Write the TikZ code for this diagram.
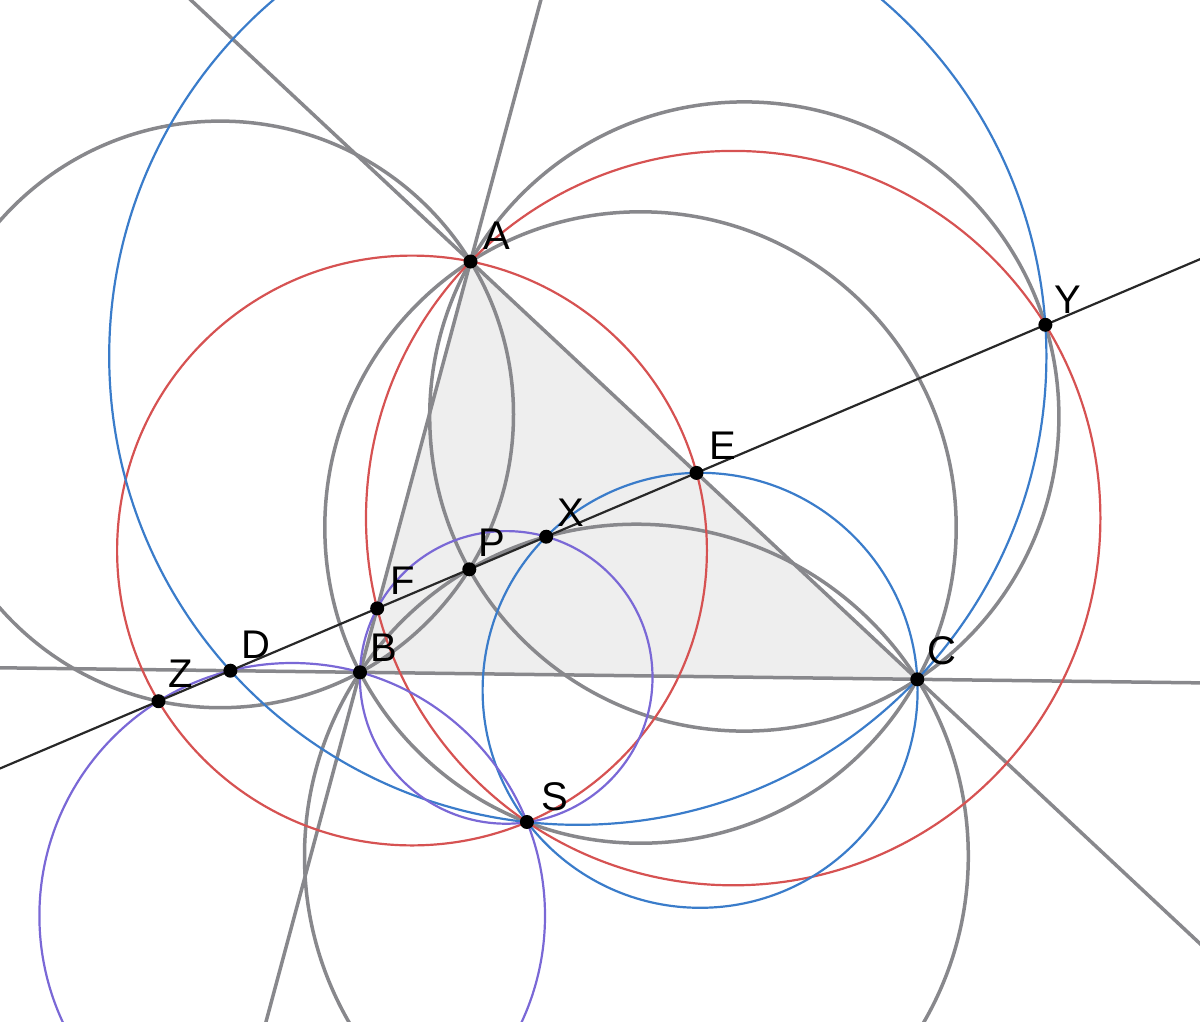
\documentclass[tikz,border=0pt]{standalone}
\usepackage{fontspec}
\setmainfont{Liberation Sans}
\usetikzlibrary{calc}
\definecolor{ggray}{RGB}{136,136,140}
\definecolor{gred}{RGB}{214,82,82}
\definecolor{gblue}{RGB}{58,124,202}
\definecolor{gpurple}{RGB}{122,104,214}
\definecolor{gfill}{RGB}{238,238,238}
\definecolor{gline}{RGB}{40,40,40}
\tikzset{
  grayline/.style={draw=ggray, line width=3.5pt},
  redc/.style={draw=gred, line width=2.2pt},
  bluec/.style={draw=gblue, line width=2.2pt},
  purc/.style={draw=gpurple, line width=2.2pt},
  mainline/.style={draw=gline, line width=2.2pt},
  dotpt/.style={circle, fill=black, inner sep=0pt, minimum size=14pt},
  lab/.style={font=\fontsize{40}{40}\selectfont, inner sep=0pt, text=black}
}
\begin{document}
\begin{tikzpicture}[x=1pt,y=-1pt]
\useasboundingbox (0,0) rectangle (1200,1021);
\clip (0,0) rectangle (1200,1021);
% points
\coordinate (A) at (470.5,261.5);
\coordinate (B) at (360,672.3);
\coordinate (C) at (917.3,679.3);
\coordinate (P) at (469.3,569.3);
\coordinate (D) at (230.4,670.7);
\coordinate (E) at (696.5,472.9);
\coordinate (F) at (377.2,608.4);
\coordinate (X) at (546.2,536.7);
\coordinate (Y) at (1045.4,324.8);
\coordinate (Z) at (158.5,701.2);
\coordinate (S) at (526.9,822.0);
% circle centres
\coordinate (oABPZ) at (220.2,414.4);
\coordinate (oACPY) at (744.3,416.5);
\coordinate (oBCPX) at (636.4,856.1);
\coordinate (oABCS) at (640.5,527.5);
\coordinate (oAESZ) at (412.0,550.5);
\coordinate (oAFSY) at (733.2,518.1);
\coordinate (oCDSY) at (577.8,356.2);
\coordinate (oCEXS) at (700.1,690.3);
\coordinate (oBFXS) at (506.2,677.4);
\coordinate (oBDZS) at (292.2,915.8);
% triangle
\fill[gfill] (A) -- (B) -- (C) -- cycle;
% gray lines
\draw[grayline] ($(A)!-1.5!(B)$) -- ($(B)!-1.5!(A)$);
\draw[grayline] ($(A)!-1!(C)$) -- ($(C)!-1!(A)$);
\draw[grayline] ($(B)!-1!(C)$) -- ($(C)!-1!(B)$);
% gray circles
\draw[grayline] (oABPZ) circle[radius=293.3pt];
\draw[grayline] (oACPY) circle[radius=314.6pt];
\draw[grayline] (oBCPX) circle[radius=331.9pt];
\draw[grayline] (oABCS) circle[radius=315.7pt];
% coloured circles
\draw[redc] (oAESZ) circle[radius=294.9pt];
\draw[redc] (oAFSY) circle[radius=367.2pt];
\draw[bluec] (oCDSY) circle[radius=468.6pt];
\draw[bluec] (oCEXS) circle[radius=217.5pt];
\draw[purc] (oBFXS) circle[radius=146.3pt];
\draw[purc] (oBDZS) circle[radius=252.8pt];
% the line
\draw[mainline] ($(Z)!-1!(Y)$) -- ($(Y)!-1!(Z)$);
% dots
\foreach \p in {A,B,C,P,D,E,F,X,Y,Z,S}{\node[dotpt] (d\p) at (\p) {};}
% labels
\node[lab] (lA) at (497,236) {A};
\node[lab] (lB) at (384,648) {B};
\node[lab] (lC) at (942,651) {C};
\node[lab] (lS) at (555,797) {S};
\node[lab] (lP) at (492,543) {P};
\node[lab] (lX) at (571,513) {X};
\node[lab] (lE) at (723,446) {E};
\node[lab] (lF) at (403,581) {F};
\node[lab] (lY) at (1068,300) {Y};
\node[lab] (lD) at (256,645) {D};
\node[lab] (lZ) at (181,674) {Z};
\end{tikzpicture}
\end{document}
